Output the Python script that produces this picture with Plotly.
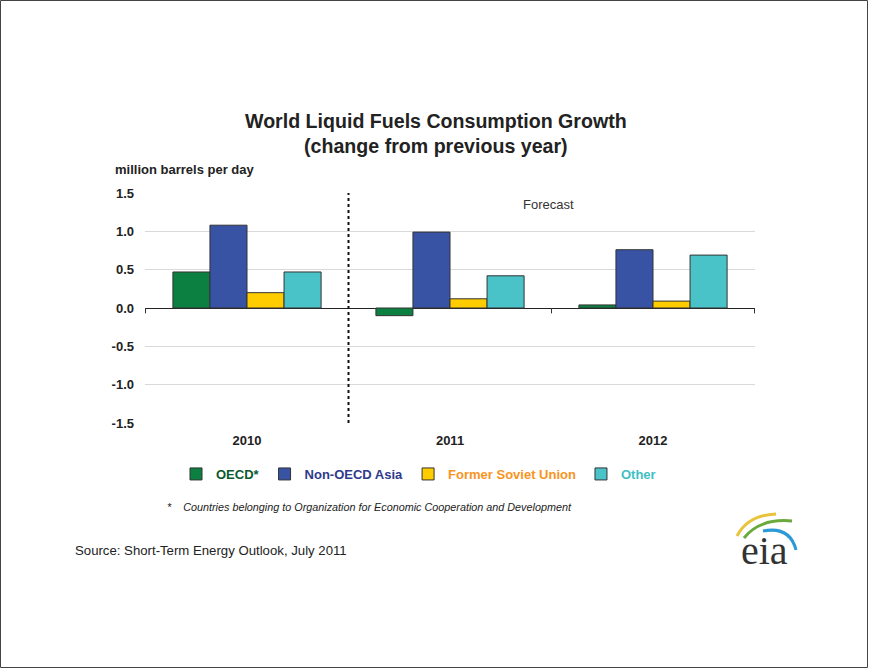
import plotly.graph_objects as go

years = ["2010", "2011", "2012"]
series_names = ["OECD*", "Non-OECD Asia", "Former Soviet Union", "Other"]
oecd = [0.47, -0.10, 0.04]
non_oecd_asia = [1.08, 0.99, 0.76]
former_soviet = [0.20, 0.12, 0.09]
other = [0.47, 0.42, 0.69]
y_ticks = [-1.5, -1.0, -0.5, 0.0, 0.5, 1.0, 1.5]
y_tick_labels = ["-1.5", "-1.0", "-0.5", "0.0", "0.5", "1.0", "1.5"]

fill_colors = ["#0B8040", "#3953A4", "#FFCC00", "#4AC3C8"]
text_colors = ["#0B5A2E", "#2E3A8C", "#F7941D", "#3FBFC4"]
values = [oecd, non_oecd_asia, former_soviet, other]

W, H = 869, 669
L, R, T, B = 145, 755, 193, 423


def px(x):
    return (x - L) / (R - L)


def py(y):
    return (B - y) / (B - T)


fig = go.Figure()
for name, vals, fc, tc in zip(series_names, values, fill_colors, text_colors):
    fig.add_trace(go.Bar(
        x=years, y=vals,
        name=f"<b><span style='color:{tc}'>{name}</span></b>",
        marker=dict(color=fc, line=dict(color="#333333", width=1)),
    ))

shapes = [
    dict(type="line", xref="x", yref="paper", x0=0.5, x1=0.5, y0=0, y1=1,
         line=dict(color="#111111", width=2, dash="dot")),
    dict(type="rect", xref="paper", yref="paper",
         x0=px(0.5), x1=px(867.5), y0=py(667.5), y1=py(0.5),
         line=dict(color="#444444", width=1)),
]
for xb in [-0.5, 1.5, 2.5]:
    shapes.append(dict(type="line", xref="x", yref="y", x0=xb, x1=xb, y0=0, y1=-0.07,
                       line=dict(color="#333333", width=1)))


def arc(p0, c, p1, color, w):
    return dict(type="path", xref="paper", yref="paper",
                path=f"M{px(p0[0])},{py(p0[1])} Q{px(c[0])},{py(c[1])} {px(p1[0])},{py(p1[1])}",
                line=dict(color=color, width=w))


shapes += [
    arc((737, 536), (748, 515), (776, 514), "#E9C43B", 3),
    arc((744, 538), (760, 518), (792, 521), "#6AAA3C", 3),
    arc((763, 531), (790, 526), (796, 550), "#2C9AD6", 3),
]

annotations = [
    dict(text="<b>World Liquid Fuels Consumption Growth<br>(change from previous year)</b>",
         xref="paper", yref="paper", x=px(435.5), y=py(133), xanchor="center", yanchor="middle",
         showarrow=False, font=dict(size=19.6, color="#222222")),
    dict(text="<b>million barrels per day</b>", xref="paper", yref="paper",
         x=px(113), y=py(170), xanchor="left", yanchor="middle", showarrow=False,
         font=dict(size=13, color="#222222")),
    dict(text="Forecast", xref="paper", yref="paper", x=px(548.5), y=py(204),
         xanchor="center", yanchor="middle", showarrow=False,
         font=dict(size=13, color="#333333")),
    dict(text="<i>*    Countries belonging to Organization for Economic Cooperation and Development</i>",
         xref="paper", yref="paper", x=px(165), y=py(507), xanchor="left", yanchor="middle",
         showarrow=False, font=dict(size=10.8, color="#222222")),
    dict(text="Source: Short-Term Energy Outlook, July 2011", xref="paper", yref="paper",
         x=px(73), y=py(550), xanchor="left", yanchor="middle", showarrow=False,
         font=dict(size=13.2, color="#222222")),
    dict(text="eia", xref="paper", yref="paper", x=px(764), y=py(550), xanchor="center",
         yanchor="middle", showarrow=False,
         font=dict(size=40, color="#333333", family="Liberation Serif, DejaVu Serif, serif")),
]

fig.update_layout(
    width=W, height=H,
    margin=dict(l=L, r=W - R, t=T, b=H - B),
    paper_bgcolor="white", plot_bgcolor="white",
    font=dict(family="Liberation Sans, Arial, sans-serif", size=12, color="#222222"),
    barmode="group", bargap=0.27, bargroupgap=0,
    showlegend=True,
    legend=dict(orientation="h", x=px(176), y=py(474), xanchor="left", yanchor="middle",
                font=dict(size=13, family="Liberation Sans, Arial, sans-serif"),
                bgcolor="rgba(0,0,0,0)", itemclick=False),
    shapes=shapes,
    annotations=annotations,
    xaxis=dict(type="category", showgrid=False, showline=False, ticks="",
               tickfont=dict(size=13, color="#222222"), ticklabelstandoff=8,
               tickprefix="<b>", ticksuffix="</b>"),
    yaxis=dict(range=[-1.5, 1.5], tickvals=y_ticks,
               ticktext=[f"<b>{t}</b>" for t in y_tick_labels],
               showgrid=True, gridcolor="#D9D9D9", gridwidth=1,
               zeroline=True, zerolinecolor="#222222", zerolinewidth=1,
               showline=False, ticks="", ticklabelstandoff=10,
               tickfont=dict(size=13, color="#222222")),
)

fig.write_html("out.html")
